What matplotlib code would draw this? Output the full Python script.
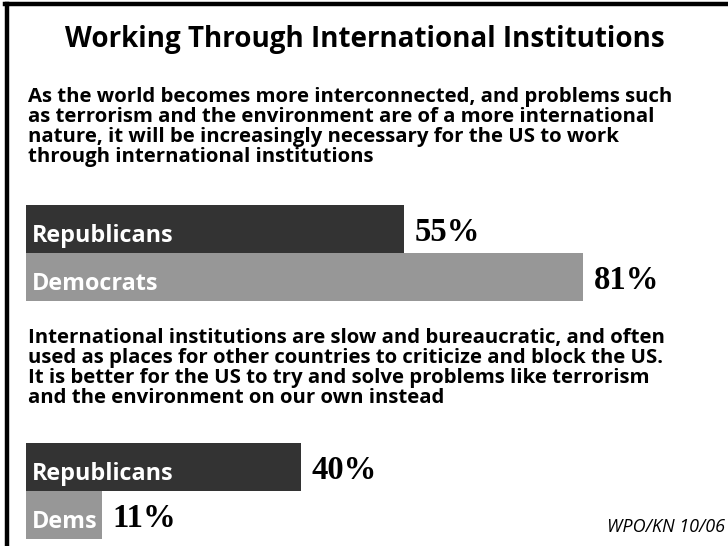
import matplotlib.pyplot as plt
import numpy as np

# data
title = "Working Through International Institutions"
q1 = ("As the world becomes more interconnected, and problems such\n"
      "as terrorism and the environment are of a more international\n"
      "nature, it will be increasingly necessary for the US to work\n"
      "through international institutions")
q2 = ("International institutions are slow and bureaucratic, and often\n"
      "used as places for other countries to criticize and block the US.\n"
      "It is better for the US to try and solve problems like terrorism\n"
      "and the environment on our own instead")
groups1 = ["Republicans", "Democrats"]
values1 = [55, 81]
groups2 = ["Republicans", "Dems"]
values2 = [40, 11]
source = "WPO/KN 10/06"

W, H = 728, 546
dark = "#333333"
light = "#979797"
sans = ["Open Sans", "DejaVu Sans"]
serif = ["Liberation Serif", "DejaVu Serif"]

fig = plt.figure(figsize=(W / 100, H / 100), dpi=100)

def fx(px):
    return px / W

def fy(py):
    return 1 - py / H

# frame: left and top lines only
fig.add_artist(plt.Line2D([fx(7), fx(7)], [fy(4), 0], color="black", lw=3.2))
fig.add_artist(plt.Line2D([fx(5), 1], [fy(4), fy(4)], color="black", lw=3.2))

fig.text(fx(365), fy(47), title, ha="center", va="baseline",
         fontsize=20, fontweight="bold", family=sans)
# multi-line text: baseline anchor is the last line
fig.text(fx(28), fy(162), q1, ha="left", va="baseline", fontsize=14.7,
         fontweight="bold", family=sans, linespacing=0.99)
fig.text(fx(28), fy(403), q2, ha="left", va="baseline", fontsize=14.7,
         fontweight="bold", family=sans, linespacing=0.99)


def bar_block(top, groups, values):
    ax = fig.add_axes([fx(26), fy(top + 96), fx(688), 96 / H])
    ypos = np.arange(len(groups))[::-1]
    ax.barh(ypos, values, height=1.0, color=[dark, light], edgecolor="none")
    ax.set_xlim(0, 100)
    ax.set_ylim(-0.5, 1.5)
    ax.axis("off")
    for y, g, v in zip(ypos, groups, values):
        ax.text(0.9, y - 0.28, g, color="white", fontsize=16.8,
                fontweight="bold", family=sans, va="baseline", ha="left")
        ax.text(v + 1.5, y - 0.26, f"{v}%", color="black", fontsize=23.5,
                fontweight="bold", family=serif, va="baseline", ha="left")
    return ax


bar_block(205, groups1, values1)
bar_block(443, groups2, values2)

fig.text(fx(725), fy(532), source, ha="right", va="baseline", fontsize=13,
         style="italic", family=sans)

fig.savefig("out.png", dpi=100)
